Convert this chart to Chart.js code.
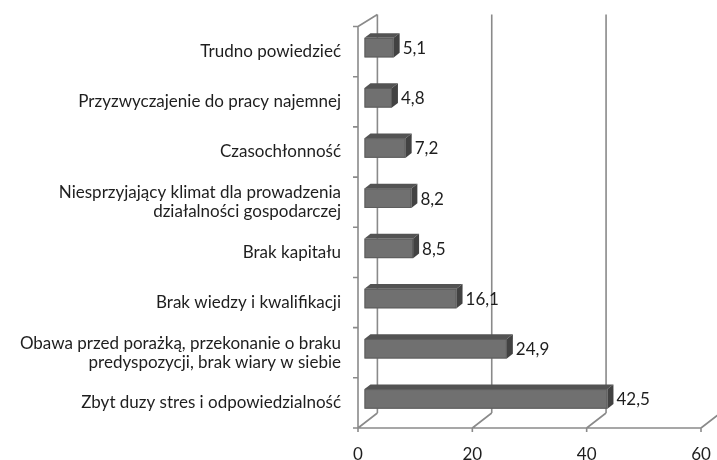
<!DOCTYPE html>
<html><head><meta charset="utf-8">
<script src="https://cdn.jsdelivr.net/npm/chart.js@4.4.1/dist/chart.umd.min.js"></script>
<style>html,body{margin:0;padding:0;background:#fff;}canvas{display:block;}</style>
</head><body>
<canvas id="c" width="717" height="460"></canvas>
<script>
const categories = [
  "Trudno powiedzieć",
  "Przyzwyczajenie do pracy najemnej",
  "Czasochłonność",
  ["Niesprzyjający klimat dla prowadzenia", "działalności gospodarczej"],
  "Brak kapitału",
  "Brak wiedzy i kwalifikacji",
  ["Obawa przed porażką, przekonanie o braku", "predyspozycji, brak wiary w siebie"],
  "Zbyt duzy stres i odpowiedzialność"
];
const values = [5.1, 4.8, 7.2, 8.2, 8.5, 16.1, 24.9, 42.5];
const xTicks = [0, 20, 40, 60];

const FONT = "Lato";
const GRID = "#8a8a8a";
// 3D frame depth
const DX = 19.4, DYT = -12, DYB = -15;
// bar offset within depth and bar depth
const BX = 6.5, BY = -4, BDX = 6, BDY = -4.7;

const frame3d = {
  id: 'frame3d',
  beforeDatasetsDraw(chart) {
    const ctx = chart.ctx, xs = chart.scales.x, ys = chart.scales.y;
    const top = ys.top, bottom = ys.bottom;
    const x0 = xs.getPixelForValue(0);
    ctx.save();
    ctx.strokeStyle = GRID; ctx.lineWidth = 1.6;
    ctx.beginPath();
    xTicks.forEach(v => {
      const x = xs.getPixelForValue(v);
      ctx.moveTo(x + DX, top + DYT); ctx.lineTo(x + DX, bottom + DYB);
      ctx.moveTo(x, bottom); ctx.lineTo(x + DX, bottom + DYB);
      ctx.moveTo(x, bottom); ctx.lineTo(x, bottom + 4);
    });
    ctx.moveTo(x0, bottom); ctx.lineTo(xs.getPixelForValue(xTicks[xTicks.length - 1]), bottom);
    ctx.moveTo(x0, top); ctx.lineTo(x0, bottom);
    ctx.moveTo(x0, top); ctx.lineTo(x0 + DX, top + DYT);
    const n = categories.length;
    const step = (bottom - top) / n;
    for (let i = 0; i <= n; i++) {
      const y = top + step * i;
      ctx.moveTo(x0 - 5, y); ctx.lineTo(x0, y);
    }
    ctx.stroke();
    ctx.restore();
  },
  afterDatasetsDraw(chart) {
    const ctx = chart.ctx;
    const meta = chart.getDatasetMeta(0);
    ctx.save();
    meta.data.forEach((bar, i) => {
      const p = bar.getProps(['x', 'y', 'base', 'height'], true);
      const l = p.base + BX, r = p.x + BX;
      const t = p.y - p.height / 2 + BY, b = p.y + p.height / 2 + BY;
      ctx.fillStyle = '#535353';
      ctx.beginPath();
      ctx.moveTo(l, t); ctx.lineTo(l + BDX, t + BDY); ctx.lineTo(r + BDX, t + BDY); ctx.lineTo(r, t); ctx.closePath();
      ctx.fill();
      ctx.fillStyle = '#424242';
      ctx.beginPath();
      ctx.moveTo(r, t); ctx.lineTo(r + BDX, t + BDY); ctx.lineTo(r + BDX, b + BDY); ctx.lineTo(r, b); ctx.closePath();
      ctx.fill();
      ctx.fillStyle = '#707070';
      ctx.fillRect(l, t, r - l, b - t);
      ctx.strokeStyle = '#5c5c5c'; ctx.lineWidth = 1;
      ctx.strokeRect(l + 0.5, t + 0.5, r - l - 1, b - t - 1);
      ctx.fillStyle = '#1e1e1e';
      ctx.font = "17px " + FONT;
      ctx.textAlign = 'left'; ctx.textBaseline = 'middle';
      ctx.fillText(String(values[i]).replace('.', ','), r + BDX + 3, (t + b) / 2 + 1);
    });
    ctx.restore();
  }
};

new Chart(document.getElementById('c'), {
  type: 'bar',
  data: {
    labels: categories,
    datasets: [{
      data: values,
      backgroundColor: 'rgba(0,0,0,0)',
      borderWidth: 0,
      barPercentage: 0.39,
      categoryPercentage: 1
    }]
  },
  options: {
    indexAxis: 'y',
    responsive: false,
    animation: false,
    devicePixelRatio: 1,
    layout: { padding: { top: 24, right: 16, left: 0, bottom: 0 } },
    plugins: { legend: { display: false }, tooltip: { enabled: false } },
    scales: {
      x: {
        min: 0, max: 60,
        afterBuildTicks(s) { s.ticks = xTicks.map(v => ({ value: v })); },
        ticks: { font: { family: FONT, size: 17 }, color: '#1e1e1e', padding: 16 },
        grid: { display: false, drawTicks: false }, border: { display: false },
        afterFit(s) { s.height = 32; s.paddingLeft = 0; s.paddingRight = 0; }
      },
      y: {
        ticks: { font: { family: FONT, size: 17, lineHeight: 1.12 }, color: '#1e1e1e', padding: 17, autoSkip: false },
        grid: { display: false, drawTicks: false }, border: { display: false },
        afterFit(s) { s.width = 358; }
      }
    }
  },
  plugins: [frame3d]
});
</script>
</body></html>
